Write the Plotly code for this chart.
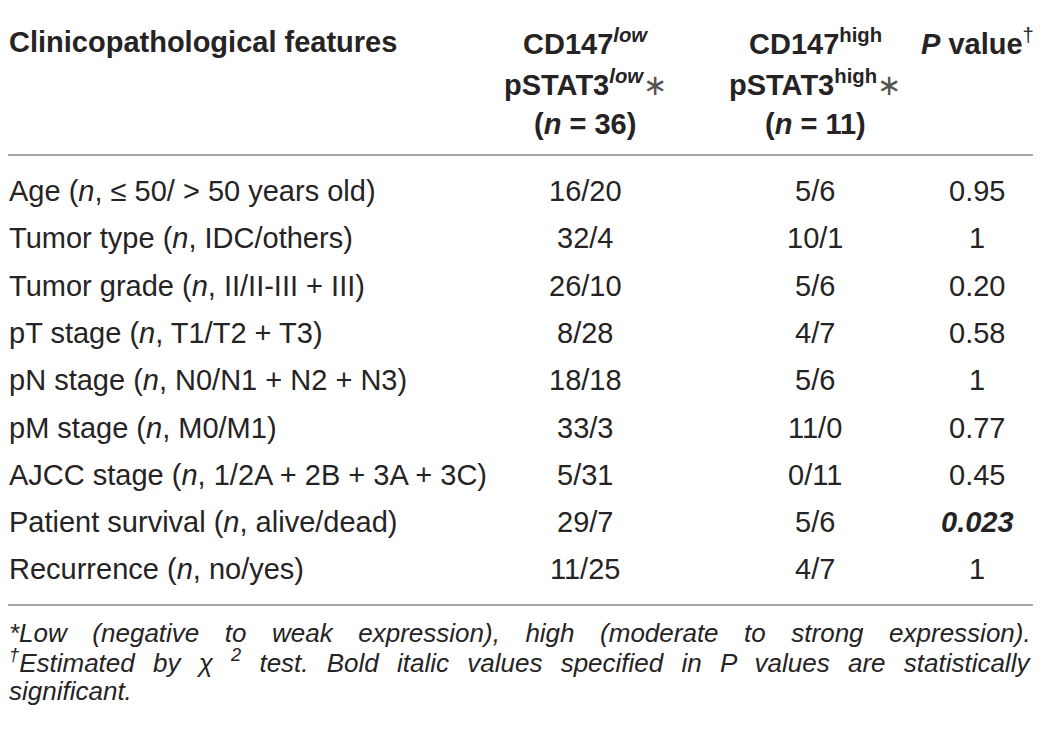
import plotly.graph_objects as go

# table content
features = [
    "Age (<i>n</i>, \u2264 50/ > 50 years old)",
    "Tumor type (<i>n</i>, IDC/others)",
    "Tumor grade (<i>n</i>, II/II-III + III)",
    "pT stage (<i>n</i>, T1/T2 + T3)",
    "pN stage (<i>n</i>, N0/N1 + N2 + N3)",
    "pM stage (<i>n</i>, M0/M1)",
    "AJCC stage (<i>n</i>, 1/2A + 2B + 3A + 3C)",
    "Patient survival (<i>n</i>, alive/dead)",
    "Recurrence (<i>n</i>, no/yes)",
]
low_group = ["16/20", "32/4", "26/10", "8/28", "18/18", "33/3", "5/31", "29/7", "11/25"]
high_group = ["5/6", "10/1", "5/6", "4/7", "5/6", "11/0", "0/11", "5/6", "4/7"]
p_values = ["0.95", "1", "0.20", "0.58", "1", "0.77", "0.45", "0.023", "1"]
significant = ["0.023"]

star = "<span style='font-weight:normal;fill:#555'>\u2217</span>"
headers = [
    ["Clinicopathological features"],
    ["CD147<sup><i>low</i></sup>", "pSTAT3<sup><i>low</i></sup>" + star, "(<i>n</i> = 36)"],
    ["CD147<sup>high</sup>", "pSTAT3<sup>high</sup>" + star, "(<i>n</i> = 11)"],
    ["<i>P</i> value<sup><span style='font-weight:normal'>\u2020</span></sup>"],
]
footnotes = [
    "*Low (negative to weak expression), high (moderate to strong expression).",
    "<sup>\u2020</sup>Estimated by \u03c7 <sup>2</sup> test. Bold italic values specified in P values are statistically",
    "significant.",
]

W, H = 1041, 729
off = 8  # page body margin of the browser
left, right = 8, 1033
col_x = [left, 585, 815, 977]
row0, pitch = 191, 47.3
head_y0, head_pitch = 42, 41
rule_y = [5, 155, 605]
foot_y0, foot_pitch = 633, 28.8

ink = "#262324"
body_font = dict(family="Liberation Sans, Arial, sans-serif", size=29, color=ink)
head_font = dict(family="Liberation Sans, Arial, sans-serif", size=29, color=ink, weight="bold")
foot_font = dict(family="Liberation Sans, Arial, sans-serif", size=26, color=ink)

fig = go.Figure()
fig.add_trace(go.Scatter(x=[off, W + off], y=[off, H + off], mode="markers",
                         marker=dict(opacity=0), hoverinfo="skip", showlegend=False))

annotations = []
# header
for j, lines in enumerate(headers):
    for k, h in enumerate(lines):
        annotations.append(dict(
            x=col_x[j], y=head_y0 + k * head_pitch, text=h, xref="x", yref="y",
            showarrow=False, xanchor="left" if j == 0 else "center", yanchor="middle",
            borderpad=0, font=head_font,
        ))

# body rows
for i in range(len(features)):
    y = row0 + i * pitch
    p = p_values[i]
    p_txt = f"<b><i>{p}</i></b>" if p in significant else p
    cells = [features[i], low_group[i], high_group[i], p_txt]
    for j, c in enumerate(cells):
        annotations.append(dict(
            x=col_x[j], y=y, text=c, xref="x", yref="y", showarrow=False,
            xanchor="left" if j == 0 else "center", yanchor="middle",
            borderpad=0, font=body_font,
        ))

# footnotes (justified look via word spacing)
spacing = ["18.3px", "11px", "0px"]
for k, f in enumerate(footnotes):
    annotations.append(dict(
        x=left, y=foot_y0 + k * foot_pitch,
        text=f"<i><span style='word-spacing:{spacing[k]}'>{f}</span></i>",
        xref="x", yref="y", showarrow=False, xanchor="left", yanchor="middle",
        borderpad=0, font=foot_font,
    ))

for ry in rule_y:
    fig.add_shape(type="line", x0=left, x1=right, y0=ry, y1=ry, xref="x", yref="y",
                  line=dict(color="#8a8a8a", width=1.5))

fig.update_layout(
    width=W, height=H, margin=dict(l=0, r=0, t=0, b=0),
    paper_bgcolor="white", plot_bgcolor="white",
    annotations=annotations,
    xaxis=dict(range=[off, W + off], visible=False, fixedrange=True),
    yaxis=dict(range=[H + off, off], visible=False, fixedrange=True),
)

fig.write_html("out.html")
